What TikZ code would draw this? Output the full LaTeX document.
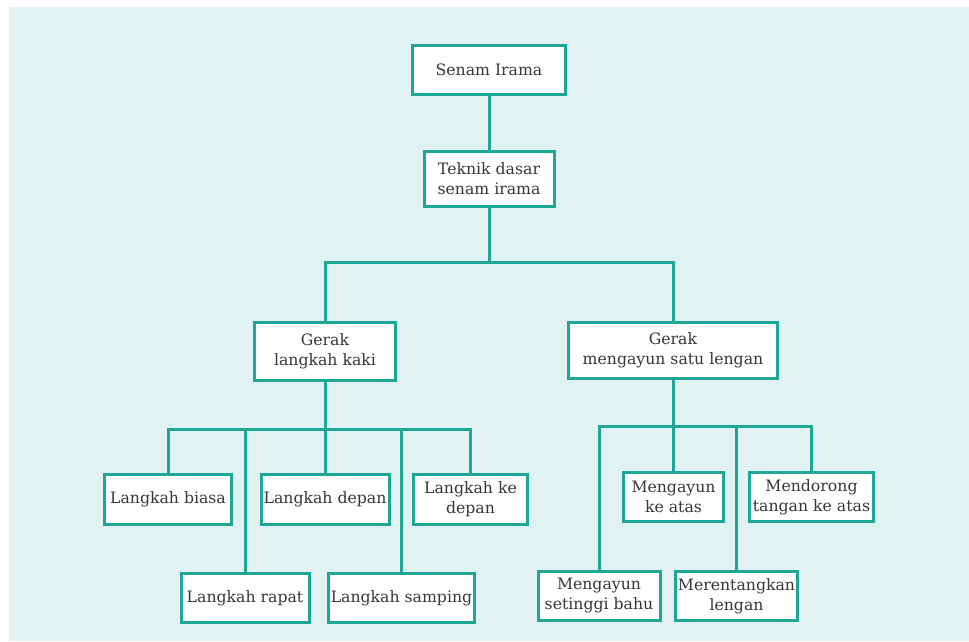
\documentclass[tikz,border=0pt]{standalone}
\usepackage{fontspec}
\setmainfont{DejaVu Serif}
\definecolor{bgc}{RGB}{224,242,241}
\definecolor{tealline}{RGB}{30,166,150}
\definecolor{txt}{RGB}{55,55,55}
\begin{document}
\begin{tikzpicture}[x=1pt,y=-1pt,
  box/.style={draw=tealline, line width=3pt, fill=white, align=center, inner sep=0pt,
    text=txt, font=\fontsize{15.7}{20}\selectfont},
  conn/.style={draw=tealline, line width=3pt}]
\useasboundingbox (0,0) rectangle (969,641);
\fill[bgc] (9,7) rectangle (969,641);

\node[box, minimum width=153pt, minimum height=49pt] (root) at (489,70) {Senam Irama};
\node[box, minimum width=130pt, minimum height=55pt] (tek) at (489,179) {Teknik dasar\\senam irama};
\node[box, minimum width=141pt, minimum height=58pt] (gk) at (325,351.5) {Gerak\\langkah kaki};
\node[box, minimum width=209pt, minimum height=56pt] (gm) at (673,350.5) {Gerak\\mengayun satu lengan};

\node[box, minimum width=127pt, minimum height=50pt] (biasa) at (168,499.5) {Langkah biasa};
\node[box, minimum width=128pt, minimum height=50pt] (depan) at (325,499.5) {Langkah depan};
\node[box, minimum width=114pt, minimum height=50pt] (kedepan) at (470.5,499.5) {Langkah ke\\depan};
\node[box, minimum width=128pt, minimum height=49pt] (rapat) at (245,598) {Langkah rapat};
\node[box, minimum width=146pt, minimum height=49pt] (samping) at (401.5,598) {Langkah samping};

\node[box, minimum width=100pt, minimum height=49pt] (keatas) at (673.5,497) {Mengayun\\ke atas};
\node[box, minimum width=124pt, minimum height=49pt] (mendorong) at (811.5,497) {Mendorong\\tangan ke atas};
\node[box, minimum width=122pt, minimum height=49pt] (setinggi) at (599,596) {Mengayun\\setinggi bahu};
\node[box, minimum width=122pt, minimum height=49pt] (merentang) at (736.5,596) {Merentangkan\\lengan};

\coordinate (b1) at (489,262);
\coordinate (b2) at (325,429);
\coordinate (b3) at (673,426);

\draw[conn] (root.south) -- (tek.north);
\draw[conn] (tek.south) -- (b1);
\draw[conn] (gk.north) -- (gk.north |- b1) -- (gm.north |- b1) -- (gm.north);

\draw[conn] (gk.south) -- (b2);
\draw[conn] (biasa.north) -- (biasa.north |- b2) -- (kedepan.north |- b2) -- (kedepan.north);
\draw[conn] (depan.north) -- (depan.north |- b2);
\draw[conn] (rapat.north) -- (rapat.north |- b2);
\draw[conn] (samping.north) -- (samping.north |- b2);

\draw[conn] (gm.south) -- (b3);
\draw[conn] (setinggi.north) -- (setinggi.north |- b3) -- (mendorong.north |- b3) -- (mendorong.north);
\draw[conn] (keatas.north) -- (keatas.north |- b3);
\draw[conn] (merentang.north) -- (merentang.north |- b3);
\end{tikzpicture}
\end{document}
